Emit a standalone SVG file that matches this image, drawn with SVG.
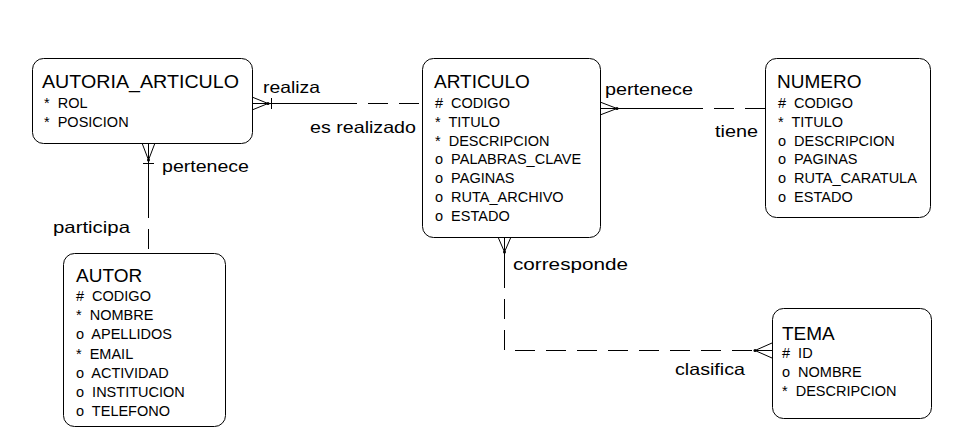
<svg xmlns="http://www.w3.org/2000/svg" width="974" height="444" viewBox="0 0 974 444">
<style>
.box{fill:#fff;stroke:#000;stroke-width:1}
.t{font-family:"Liberation Sans",Arial,sans-serif;font-size:19px;fill:#000}
.a{font-family:"Liberation Sans",Arial,sans-serif;font-size:14.5px;fill:#000;white-space:pre}
.l{font-family:"Liberation Sans",Arial,sans-serif;font-size:16.5px;fill:#000}
.ln{fill:none;stroke:#000;stroke-width:1}
.d{fill:none;stroke:#000;stroke-width:1;stroke-dasharray:20 11}
.dot{fill:#000}
</style>
<rect width="974" height="444" fill="#fff"/>
<g id="connectors">
  <g id="rel-realiza">
    <path class="ln" d="M252,103.5 H337 M252,97 L268,103.5 L252,110 M271.5,98 V109"/>
    <path class="d" d="M337,103.5 H422"/>
    <circle class="dot" cx="268" cy="103.5" r="1.5"/>
    <text class="l" x="263" y="93" textLength="57" lengthAdjust="spacingAndGlyphs">realiza</text>
    <text class="l" x="310" y="133" textLength="106" lengthAdjust="spacingAndGlyphs">es realizado</text>
  </g>
  <g id="rel-pertenece-numero">
    <path class="ln" d="M600,108.5 H683 M600,102 L617,108.5 L600,115"/>
    <path class="d" d="M683,108.5 H765"/>
    <circle class="dot" cx="617" cy="108.5" r="1.5"/>
    <text class="l" x="605" y="95" textLength="88" lengthAdjust="spacingAndGlyphs">pertenece</text>
    <text class="l" x="715" y="137" textLength="43" lengthAdjust="spacingAndGlyphs">tiene</text>
  </g>
  <g id="rel-participa">
    <path class="ln" d="M148.5,143 V198 M142,143 L148.5,160 L155,143 M143,163.5 H154"/>
    <path class="d" d="M148.5,198 V253"/>
    <circle class="dot" cx="148.5" cy="160" r="1.5"/>
    <text class="l" x="162" y="172" textLength="87" lengthAdjust="spacingAndGlyphs">pertenece</text>
    <text class="l" x="53" y="233" textLength="77" lengthAdjust="spacingAndGlyphs">participa</text>
  </g>
  <g id="rel-clasifica">
    <path class="ln" d="M504.5,237 V268 M498,237 L504.5,252 L511,237"/>
    <path class="d" d="M504.5,268 V350.5 H755"/>
    <path class="ln" d="M755,350.5 H772 M772,343 L755,350.5 L772,358"/>
    <circle class="dot" cx="504.5" cy="252" r="1.5"/>
    <circle class="dot" cx="755" cy="350.5" r="1.5"/>
    <text class="l" x="513" y="270" textLength="115" lengthAdjust="spacingAndGlyphs">corresponde</text>
    <text class="l" x="675" y="375" textLength="70" lengthAdjust="spacingAndGlyphs">clasifica</text>
  </g>
</g>
<g id="AUTORIA_ARTICULO" xml:space="preserve">
  <rect class="box" x="32.5" y="58.5" width="220" height="85" rx="11"/>
  <text class="t" x="42" y="88" textLength="197" lengthAdjust="spacingAndGlyphs">AUTORIA_ARTICULO</text>
  <text class="a" x="44" y="108">*  ROL</text>
  <text class="a" x="44" y="127">*  POSICION</text>
</g>
<g id="ARTICULO" xml:space="preserve">
  <rect class="box" x="422.5" y="58.5" width="178" height="179" rx="11"/>
  <text class="t" x="434" y="88">ARTICULO</text>
  <text class="a" x="435" y="108">#  CODIGO</text>
  <text class="a" x="435" y="126.8">*  TITULO</text>
  <text class="a" x="435" y="145.6">*  DESCRIPCION</text>
  <text class="a" x="435" y="164.4">o  PALABRAS_CLAVE</text>
  <text class="a" x="435" y="183.2">o  PAGINAS</text>
  <text class="a" x="435" y="202">o  RUTA_ARCHIVO</text>
  <text class="a" x="435" y="220.8">o  ESTADO</text>
</g>
<g id="NUMERO" xml:space="preserve">
  <rect class="box" x="765.5" y="58.5" width="165" height="159" rx="11"/>
  <text class="t" x="777" y="88">NUMERO</text>
  <text class="a" x="778" y="108">#  CODIGO</text>
  <text class="a" x="778" y="126.8">*  TITULO</text>
  <text class="a" x="778" y="145.6">o  DESCRIPCION</text>
  <text class="a" x="778" y="164.4">o  PAGINAS</text>
  <text class="a" x="778" y="183.2">o  RUTA_CARATULA</text>
  <text class="a" x="778" y="202">o  ESTADO</text>
</g>
<g id="AUTOR" xml:space="preserve">
  <rect class="box" x="63.5" y="253.5" width="162" height="173" rx="11"/>
  <text class="t" x="76" y="282">AUTOR</text>
  <text class="a" x="76" y="301">#  CODIGO</text>
  <text class="a" x="76" y="320.2">*  NOMBRE</text>
  <text class="a" x="76" y="339.4">o  APELLIDOS</text>
  <text class="a" x="76" y="358.6">*  EMAIL</text>
  <text class="a" x="76" y="377.8">o  ACTIVIDAD</text>
  <text class="a" x="76" y="397">o  INSTITUCION</text>
  <text class="a" x="76" y="416.2">o  TELEFONO</text>
</g>
<g id="TEMA" xml:space="preserve">
  <rect class="box" x="772.5" y="308.5" width="159" height="110" rx="11"/>
  <text class="t" x="782" y="340">TEMA</text>
  <text class="a" x="782" y="358">#  ID</text>
  <text class="a" x="782" y="377">o  NOMBRE</text>
  <text class="a" x="782" y="396">*  DESCRIPCION</text>
</g>
</svg>
